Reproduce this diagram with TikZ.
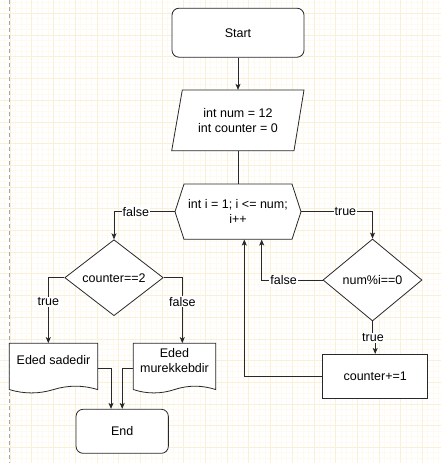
\documentclass[tikz,border=0pt]{standalone}
\usepackage{fontspec}
\setmainfont{Liberation Sans}
\usetikzlibrary{shapes.geometric,arrows.meta,calc}
\definecolor{gridmajor}{RGB}{250,240,215}
\definecolor{gridminor}{RGB}{254,250,240}
\definecolor{linec}{RGB}{40,40,40}
\tikzset{
  arr/.style={draw=linec, line width=0.8pt, -{Stealth[length=6pt,width=5pt,inset=1.5pt]}},
  plain/.style={draw=linec, line width=0.8pt},
  outline/.style={draw=linec, line width=0.8pt, fill=white},
  lbl/.style={fill=white, inner sep=1pt, font=\fontsize{12.5}{14}\selectfont},
  txt/.style={align=center, font=\fontsize{12.5}{15.5}\selectfont, inner sep=0pt},
  ghost/.style={draw=none, inner sep=0pt, align=center, font=\fontsize{12.5}{15.5}\selectfont},
  roundbox/.style={outline, rounded corners=7pt, inner sep=0pt, align=center, font=\fontsize{12.5}{15.5}\selectfont},
  decision/.style={outline, diamond, inner sep=0pt, align=center, font=\fontsize{12.5}{15.5}\selectfont},
  procbox/.style={outline, rectangle, inner sep=0pt, align=center, font=\fontsize{12.5}{15.5}\selectfont}
}
\newcommand\docpath[4]{% x0 y0 w h
  \path[outline] (#1,#2) -- ({#1+#3},#2) -- ({#1+#3},{#2+#4-0.15*#4/2})
    .. controls ({#1+#3-#3/6},{#2+#4-0.15*#4/2-0.6*0.15*#4}) and ({#1+#3/2+#3/6},{#2+#4-0.15*#4/2-0.6*0.15*#4}) .. ({#1+#3/2},{#2+#4-0.15*#4/2})
    .. controls ({#1+#3/2-#3/6},{#2+#4-0.15*#4/2+0.6*0.15*#4}) and ({#1+#3/6},{#2+#4-0.15*#4/2+0.6*0.15*#4}) .. (#1,{#2+#4-0.15*#4/2})
    -- cycle;}
\begin{document}
\begin{tikzpicture}[x=1pt,y=-1pt]
\useasboundingbox (0,0) rectangle (441,463);
\fill[white] (0,0) rectangle (441,463);
% grid
\begin{scope}[line width=0.5pt]
\foreach \i in {0,...,81} { \draw[gridminor] ({4.575+5.425*\i},0) -- ({4.575+5.425*\i},463); }
\foreach \i in {0,...,85} { \draw[gridminor] (0,{2.45+5.425*\i}) -- (441,{2.45+5.425*\i}); }
\foreach \i in {-1,...,19} { \draw[gridmajor] ({31.7+21.7*\i},0) -- ({31.7+21.7*\i},463); }
\foreach \i in {0,...,21} { \draw[gridmajor] (0,{13.3+21.7*\i}) -- (441,{13.3+21.7*\i}); }
\end{scope}
\draw[gray!70, line width=0.8pt, dash pattern=on 4pt off 3pt] (9.5,0) -- (9.5,463);

% shapes
\node[roundbox, minimum width=132pt, minimum height=49pt] (start) at (238,32.7) {Start};

\path[outline] (182.3,90) -- (304,90) -- (294,150.7) -- (171.7,150.7) -- cycle;
\node[ghost, minimum width=122pt, minimum height=60.7pt] (io) at (238,120.4) {int num = 12\\int counter = 0};

\path[outline] (175,211.7) -- (184,184) -- (292,184) -- (301,211.7) -- (292,239.3) -- (184,239.3) -- cycle;
\node[ghost, minimum width=126pt, minimum height=55.3pt] (hex) at (238,211.7) {int i = 1; i <= num;\\i++};

\node[decision, minimum width=98.5pt, minimum height=76pt] (d1) at (114,277.7) {counter==2};
\node[decision, minimum width=99pt, minimum height=82pt] (d2) at (372.5,280) {num\%i==0};

\docpath{9.3}{343.3}{88.4}{50}
\node[ghost, minimum width=88.4pt, minimum height=50pt] (doc1) at (53.5,368.3) {};
\node[txt] (doc1t) at (53.5,360) {Eded sadedir};
\docpath{133.3}{343.3}{82.4}{50}
\node[ghost, minimum width=82.4pt, minimum height=50pt] (doc2) at (174.5,368.3) {};
\node[txt] (doc2t) at (174.5,360.3) {Eded\\murekkebdir};

\node[procbox, minimum width=105pt, minimum height=44pt] (counter) at (375.2,376.3) {counter+=1};
\node[roundbox, minimum width=92.3pt, minimum height=44pt] (end) at (122.2,431.3) {End};

% connectors
\draw[arr] (start) -- (io);
\draw[plain] (io) -- (hex);
\draw[arr] (hex.west) -| node[lbl, pos=0.32] {false} (d1.north);
\draw[arr] (hex.east) -| node[lbl, pos=0.31] {true} (d2.north);
\draw[arr] (d1.west) -| node[lbl, pos=0.685] {true} ([xshift=-5.2pt]doc1.north);
\draw[arr] (d1.east) -| node[lbl, pos=0.685] {false} ([xshift=7.8pt]doc2.north);
\draw[arr] (d2.west) -| node[lbl, pos=0.32] {false} ([xshift=23.7pt]hex.south);
\coordinate (mid) at ($(d2.south)!0.5!(counter.north)$);
\draw[arr] (d2.south) -- (d2.south |- mid) -| (counter.north);
\node[lbl] (tlbl) at ($(d2.south |- mid)+(0.5,0)$) {true};
\draw[arr] (counter.west) -| ([xshift=6.3pt]hex.south);
\draw[arr] (doc1.east) -| ([xshift=-11.2pt]end.north);
\draw[arr] (doc2.west) -| (end.north);
\end{tikzpicture}
\end{document}
